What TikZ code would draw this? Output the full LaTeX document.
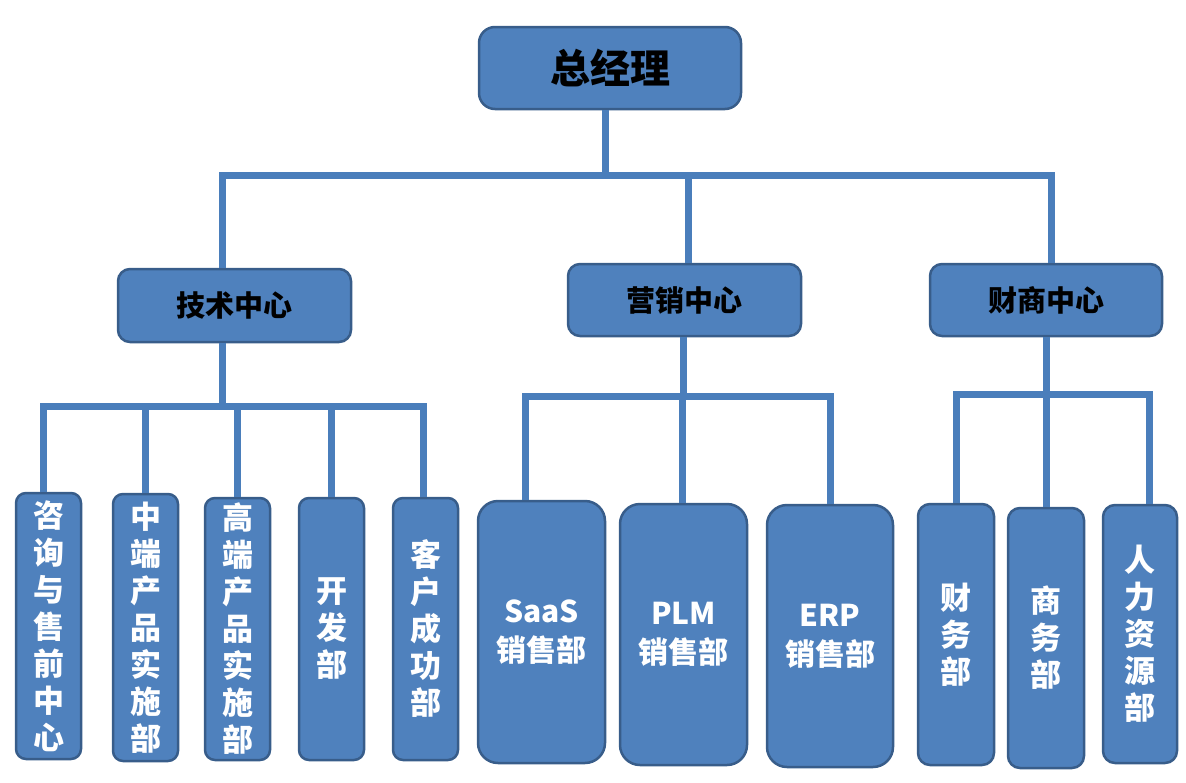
\documentclass[tikz,border=0pt]{standalone}
\usepackage{fontspec}
\newfontfamily\cjk{Noto Sans CJK SC}
\definecolor{boxfill}{HTML}{4F81BD}
\definecolor{boxline}{HTML}{385D8A}
\definecolor{conncol}{HTML}{4A7EBB}
\begin{document}
\begin{tikzpicture}[x=1pt,y=-1pt,
  box/.style={draw=boxline, fill=boxfill, line width=2.5pt, rounded corners=#1, inner sep=0pt, align=center},
  box/.default=12pt,
  toptext/.style={font=\cjk\bfseries\fontsize{40}{45}\selectfont, text=black},
  midtext/.style={font=\cjk\bfseries\fontsize{29}{34}\selectfont, text=black},
  leaftext/.style={font=\cjk\bfseries\fontsize{31}{37}\selectfont, text=white},
  saletext/.style={font=\cjk\bfseries\fontsize{30}{39}\selectfont, text=white},
  conn/.style={draw=conncol, line width=7pt}
]
\useasboundingbox (0,0) rectangle (1186,782);

% top
\node[box=16pt, toptext, minimum width=262pt, minimum height=82pt] (gm) at (610,68) {总经理};

% centers
\node[box=12pt, midtext, minimum width=233pt, minimum height=73pt] (tech) at (234.5,305.5) {技术中心};
\node[box=12pt, midtext, minimum width=233pt, minimum height=72pt] (mkt) at (684.5,300) {营销中心};
\node[box=12pt, midtext, minimum width=232pt, minimum height=72pt] (fin) at (1046,300) {财商中心};

% leaves of tech
\node[box=10pt, leaftext, minimum width=65pt, minimum height=266pt] (l1) at (48.5,626) {咨\\询\\与\\售\\前\\中\\心};
\node[box=10pt, leaftext, minimum width=65pt, minimum height=267pt] (l2) at (145.5,627.5) {中\\端\\产\\品\\实\\施\\部};
\node[box=10pt, leaftext, minimum width=65pt, minimum height=262pt] (l3) at (237.5,629) {高\\端\\产\\品\\实\\施\\部};
\node[box=10pt, leaftext, minimum width=65pt, minimum height=262pt] (l4) at (331.5,629) {开\\发\\部};
\node[box=10pt, leaftext, minimum width=65pt, minimum height=262pt] (l5) at (425.5,629) {客\\户\\成\\功\\部};

% leaves of marketing
\node[box=20pt, saletext, minimum width=127pt, minimum height=262pt] (s1) at (541.5,632) {SaaS\\销售部};
\node[box=20pt, saletext, minimum width=127pt, minimum height=261pt] (s2) at (683.5,634.5) {PLM\\销售部};
\node[box=20pt, saletext, minimum width=126pt, minimum height=262pt] (s3) at (830,636) {ERP\\销售部};

% leaves of finance
\node[box=12pt, leaftext, minimum width=76pt, minimum height=261pt] (f1) at (956,634.5) {财\\务\\部};
\node[box=12pt, leaftext, minimum width=76pt, minimum height=260pt] (f2) at (1046,638) {商\\务\\部};
\node[box=12pt, leaftext, minimum width=74pt, minimum height=258pt] (f3) at (1140,634) {人\\力\\资\\源\\部};

% bus coordinates
\coordinate (b0) at (605,175);
\coordinate (b1) at (222,406);
\coordinate (b2) at (683,396);
\coordinate (b3) at (1046,394);

% top level connectors
\draw[conn] ([xshift=-5pt]gm.south) -- (b0);
\draw[conn] ([xshift=-12.5pt]tech.north) |- (b0) -| ([xshift=5pt]fin.north);
\draw[conn] ([xshift=3.5pt]mkt.north) -- ([xshift=3.5pt]mkt.north |- b0);

% tech connectors
\draw[conn] ([xshift=-12.5pt]tech.south) -- (b1);
\draw[conn] ([xshift=-5.5pt]l1.north) |- (b1) -| ([xshift=-2.5pt]l5.north);
\draw[conn] (l2.north) -- (l2.north |- b1);
\draw[conn] (l3.north) -- (l3.north |- b1);
\draw[conn] (l4.north) -- (l4.north |- b1);

% marketing connectors
\draw[conn] ([xshift=-1.5pt]mkt.south) -- (b2);
\draw[conn] ([xshift=-16.5pt]s1.north) |- (b2) -| (s3.north);
\draw[conn] ([xshift=-1.5pt]s2.north) -- ([xshift=-1.5pt]s2.north |- b2);

% finance connectors
\draw[conn] (fin.south) -- (b3);
\draw[conn] (f1.north) |- (b3) -| ([xshift=9pt]f3.north);
\draw[conn] (f2.north) -- (b3);
\end{tikzpicture}
\end{document}
